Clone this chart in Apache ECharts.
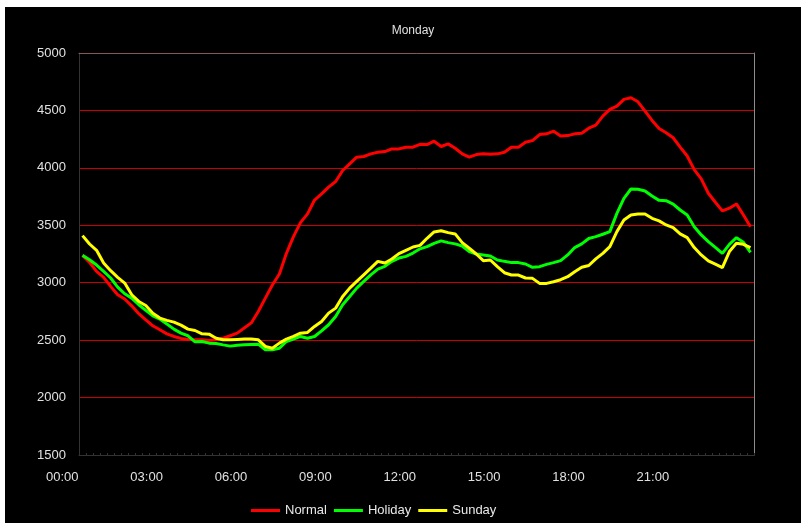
<!DOCTYPE html>
<html>
<head>
<meta charset="utf-8">
<script src="https://cdn.jsdelivr.net/npm/echarts@6/dist/echarts.min.js"></script>
<style>
html,body{margin:0;padding:0;background:#ffffff;width:801px;height:523px;overflow:hidden;}
#chart{position:absolute;left:5px;top:7px;width:796px;height:516px;}
</style>
</head>
<body>
<div id="chart"></div>
<script>
// 15-minute slots over the day
var times = [];
for (var h = 0; h < 24; h++) {
  for (var m = 0; m < 60; m += 15) {
    times.push((h < 10 ? '0' : '') + h + ':' + (m < 10 ? '0' : '') + m);
  }
}
var yTicks = [1500, 2000, 2500, 3000, 3500, 4000, 4500, 5000];

var normal = [
 3238,3177,3099,3047,2968,2895,2858,2799,2730,2677,2625,2590,
 2555,2532,2515,2506,2503,2503,2497,2503,2517,2538,2561,2605,
 2650,2750,2866,2980,3076,3256,3401,3523,3599,3720,3773,3832,
 3881,3977,4035,4093,4099,4122,4136,4142,4165,4165,4180,4180,
 4205,4203,4232,4186,4209,4171,4122,4093,4116,4122,4119,4122,
 4136,4180,4180,4223,4238,4290,4296,4319,4278,4281,4296,4302,
 4345,4372,4451,4509,4538,4596,4610,4575,4494,4413,4343,4306,
 4262,4181,4103,3985,3904,3779,3701,3625,3649,3686,3590,3488
];
var holiday = [
 3238,3200,3154,3099,3041,2962,2904,2866,2808,2759,2712,2683,
 2640,2596,2561,2538,2485,2488,2474,2471,2459,2448,2456,2459,
 2462,2465,2416,2416,2430,2488,2509,2532,2517,2532,2581,2634,
 2706,2808,2880,2953,3011,3069,3119,3142,3186,3215,3229,3258,
 3295,3314,3343,3364,3349,3338,3320,3271,3250,3242,3233,3198,
 3186,3175,3175,3163,3134,3140,3160,3175,3192,3242,3306,3338,
 3385,3401,3422,3445,3604,3735,3816,3813,3799,3755,3717,3714,
 3685,3633,3590,3488,3416,3358,3308,3256,3334,3392,3352,3264
];
var sunday = [
 3410,3337,3282,3172,3105,3047,2997,2895,2837,2802,2735,2692,
 2672,2657,2631,2596,2584,2555,2552,2517,2503,2503,2506,2509,
 2509,2503,2445,2430,2474,2509,2532,2561,2567,2619,2663,2735,
 2779,2880,2953,3011,3069,3127,3186,3171,3206,3253,3282,3311,
 3325,3387,3442,3453,3436,3425,3349,3300,3250,3192,3198,3140,
 3087,3067,3067,3041,3038,2994,2994,3009,3026,3052,3096,3134,
 3150,3207,3256,3314,3445,3546,3590,3598,3598,3561,3538,3503,
 3480,3425,3393,3306,3242,3190,3161,3132,3271,3343,3334,3306
];
var seriesNames = ['Normal', 'Holiday', 'Sunday'];
var seriesColors = ['#ff0000', '#00ff00', '#ffff00'];
var seriesData = [normal, holiday, sunday];

var font = 'Liberation Sans, Arial, sans-serif';
var chart = echarts.init(document.getElementById('chart'), null, {renderer: 'canvas'});
chart.setOption({
  backgroundColor: '#000000',
  animation: false,
  title: {
    text: 'Monday',
    left: 403,
    top: 13,
    textAlign: 'center',
    textStyle: {color: '#e0e0e0', fontSize: 12, fontWeight: 'normal', fontFamily: font}
  },
  legend: {
    data: seriesNames,
    left: 241,
    top: 492,
    icon: 'rect',
    itemWidth: 29,
    itemHeight: 3,
    itemGap: 7,
    textStyle: {color: '#e8e8e8', fontSize: 13, fontFamily: font}
  },
  grid: {
    left: 74, top: 46, right: 47, bottom: 68,
    show: false
  },
  xAxis: [{
    type: 'category',
    data: times,
    boundaryGap: true,
    axisLine: {lineStyle: {color: '#333333', width: 1}},
    axisTick: {show: true, interval: 0, inside: true, length: 2, lineStyle: {color: '#333333'}},
    axisLabel: {
      interval: 11, align: 'right', padding: [0, 4, 0, 0], margin: 16,
      color: '#e0e0e0', fontSize: 13, fontFamily: font
    },
    splitLine: {show: false}
  }, {
    type: 'category',
    data: times,
    position: 'top',
    axisLine: {show: true, lineStyle: {color: '#8a5656', width: 1}},
    axisTick: {show: false},
    axisLabel: {show: false},
    splitLine: {show: false}
  }],
  yAxis: [{
    type: 'value',
    min: yTicks[0],
    max: yTicks[yTicks.length - 1],
    interval: 500,
    axisLine: {show: true, lineStyle: {color: '#333333', width: 1}},
    axisTick: {show: false},
    axisLabel: {
      color: '#e0e0e0', fontSize: 13, fontFamily: font, margin: 13,
      formatter: function (v) { return String(v); }
    },
    splitLine: {show: true, lineStyle: {color: '#c80000', width: 1}}
  }, {
    type: 'value',
    position: 'right',
    min: yTicks[0],
    max: yTicks[yTicks.length - 1],
    interval: 500,
    axisLine: {show: true, lineStyle: {color: '#8c8c8c', width: 1}},
    axisTick: {show: false},
    axisLabel: {show: false},
    splitLine: {show: false}
  }],
  series: seriesNames.map(function (name, k) {
    return {
      name: name,
      type: 'line',
      data: seriesData[k],
      showSymbol: false,
      symbol: 'none',
      lineStyle: {color: seriesColors[k], width: 3},
      itemStyle: {color: seriesColors[k]}
    };
  })
});
</script>
</body>
</html>
